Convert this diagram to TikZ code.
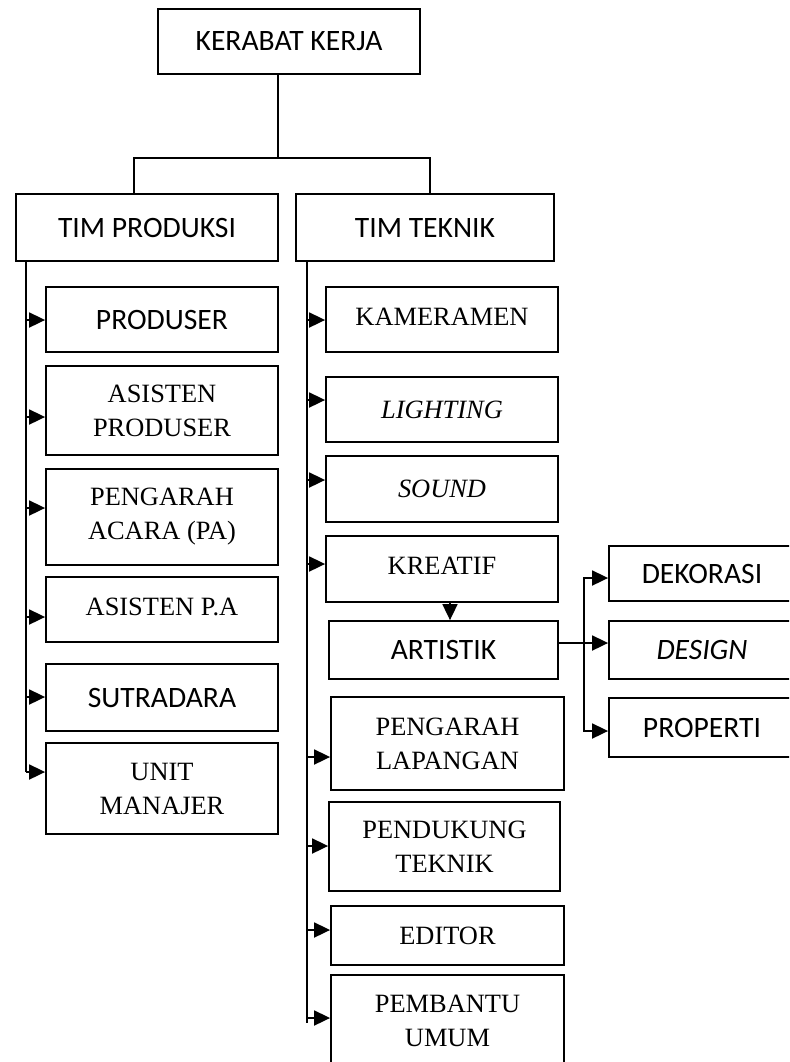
\documentclass[tikz,border=0pt]{standalone}
\usepackage{fontspec}
\setmainfont{Liberation Serif}
\newfontfamily\calfont{Carlito}
\usetikzlibrary{arrows.meta,positioning}
\tikzset{box/.style={draw,line width=0.9pt,align=center,inner sep=2pt,font={\fontsize{13.2}{17}\selectfont}},
  calbox/.style={box,font={\calfont\fontsize{14.8}{17}\selectfont}},
  link/.style={line width=0.9pt},
  arr/.style={link,-{Triangle[length=8pt,width=7.5pt]}}}

\begin{document}
\begin{tikzpicture}[x=0.5pt,y=-0.5pt]
\clip (0,0) rectangle (789,1062);
\fill[white] (0,0) rectangle (789,1062);
% top levels
\node[calbox,minimum width=131pt,minimum height=32.5pt] (kerabat) at (289,41.5) {KERABAT KERJA};
\node[calbox,minimum width=131pt,minimum height=33.5pt] (produksi) at (147,227.5) {TIM PRODUKSI};
\node[calbox,minimum width=129pt,minimum height=33.5pt] (teknik) at (425,227.5) {TIM TEKNIK};
\draw[link] ([xshift=-5.5pt]kerabat.south) -- ++(0,83) coordinate (split);
\draw[link] ([xshift=-6.5pt]produksi.north) |- (split) -| ([xshift=2.5pt]teknik.north);
\coordinate (ptrunk) at ([xshift=5.5pt]produksi.south west);
\coordinate (ttrunk) at ([xshift=6pt]teknik.south west);
% tim produksi
\foreach \name/\txt/\yc/\h/\ya/\st in {prodsr/PRODUSER/319.5/32.5/320/calbox,
  asprod/ASISTEN\\PRODUSER/410.5/44.5/417/box,
  pa/PENGARAH\\ACARA (PA)/517/48/508/box,
  aspa/\raisebox{3pt}{ASISTEN P.A}/609.5/32.5/617/box,
  sutradara/SUTRADARA/697.5/33.5/697/calbox,
  unit/UNIT\\MANAJER/788.5/45.5/772/box}{
  \node[\st,minimum width=116pt,minimum height=\h pt] (\name) at (162,\yc) {\txt};
  \path (\name.west) ++(0,{\ya-\yc}) coordinate (\name-in);
  \draw[arr] (ptrunk |- \name-in) -- (\name-in);
}
\draw[link] (ptrunk) -- (ptrunk |- unit-in);
% tim teknik
\foreach \name/\txt/\xc/\yc/\w/\h/\ya in {kamera/\raisebox{3pt}{KAMERAMEN}/442/319.5/116/32.5/320,
  light/\textit{LIGHTING}/442/409.5/116/32.5/400,
  sound/\textit{SOUND}/442/489/116/33/480,
  kreatif/\raisebox{3pt}{KREATIF}/442/569/116/33/564,
  lapangan/PENGARAH\\LAPANGAN/447.5/743.5/116.5/46.5/757,
  pendukung/PENDUKUNG\\TEKNIK/444.5/846.5/115.5/44.5/846,
  editor/EDITOR/447.5/935.5/116.5/29.5/930,
  pembantu/PEMBANTU\\UMUM/447.5/1021/116.5/46/1018}{
  \node[box,minimum width=\w pt,minimum height=\h pt] (\name) at (\xc,\yc) {\txt};
  \path (\name.west) ++(0,{\ya-\yc}) coordinate (\name-in);
  \draw[arr] (ttrunk |- \name-in) -- (\name-in);
}
\draw[link] (ttrunk) -- ([yshift=-2.5pt]ttrunk |- pembantu-in);
\node[calbox,minimum width=114.5pt,minimum height=29pt] (artistik) at (443.5,650) {ARTISTIK};
\draw[arr] ([xshift=4pt]kreatif.south) -- ([xshift=4pt]kreatif.south |- artistik.north);
% artistik
\foreach \name/\txt/\yc/\h/\ya in {dekorasi/DEKORASI/573.5/27.5/578,
  design/\textit{DESIGN}/650/29/643,
  properti/PROPERTI/727.5/29.5/731}{
  \node[calbox,minimum width=93pt,minimum height=\h pt] (\name) at (702,\yc) {\txt};
  \path (\name.west) ++(0,{\ya-\yc}) coordinate (\name-in);
}
\draw[link] ([yshift=3.5pt]artistik.east) -- ++(12.5pt,0) coordinate (fork);
\foreach \name in {dekorasi,design,properti}
  \draw[arr] (fork) |- (\name-in);
\end{tikzpicture}
\end{document}
